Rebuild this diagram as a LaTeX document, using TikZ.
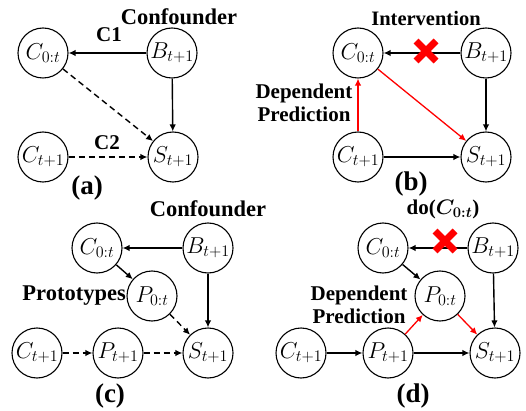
\documentclass[tikz,border=0pt]{standalone}
\usepackage{fix-cm}
\usepackage{fontspec}
\newfontfamily\tnr{Liberation Serif}
\setmainfont{Liberation Serif}
\usetikzlibrary{arrows.meta}
\begin{document}
\begin{tikzpicture}[x=1pt,y=-1pt,
  nd/.style={circle,draw,line width=1.1pt,minimum size=50pt,inner sep=0pt,font=\fontsize{23}{26}\selectfont},
  ar/.style={line width=1.4pt,-{Latex[length=7pt,width=6.5pt]}},
  da/.style={ar,dash pattern=on 6pt off 4pt},
  ra/.style={ar,red,line width=1.3pt},
  lb/.style={font=\tnr\bfseries\fontsize{21}{23}\selectfont,inner sep=0pt,align=center},
  bg/.style={font=\tnr\bfseries\fontsize{22.5}{25}\selectfont,inner sep=0pt},
  captxt/.style={font=\tnr\bfseries\fontsize{27}{30}\selectfont,inner sep=0pt},
  xmark/.style={red,line width=7pt}]
\useasboundingbox (0,0) rectangle (526,411);
% ---------- (a)
\node[nd] (aC0) at (43,53) {$C_{0:t}$};
\node[nd] (aB) at (172,53) {$B_{t+1}$};
\node[nd] (aCn) at (43,157) {$C_{t+1}$};
\node[nd] (aS) at (173,157) {$S_{t+1}$};
\draw[ar] (aB) -- (aC0);
\draw[ar] (aB) -- (aS);
\draw[da] (aC0) -- (aS);
\draw[da] (aCn) -- (aS);
\node[bg] (aconf) at (179,17) {Confounder};
\node[lb] (ac1) at (109,35) {C1};
\node[lb] (ac2) at (107,143) {C2};
\node[captxt] (acap) at (87,188) {(a)};
% ---------- (b)
\node[nd] (bC0) at (358,53) {$C_{0:t}$};
\node[nd] (bB) at (486,53) {$B_{t+1}$};
\node[nd] (bCn) at (358,157) {$C_{t+1}$};
\node[nd] (bS) at (486,157) {$S_{t+1}$};
\draw[ar] (bB) -- (bC0);
\draw[ar] (bB) -- (bS);
\draw[ar] (bCn) -- (bS);
\draw[ra] (bCn) -- (bC0);
\draw[ra] (bC0) -- (bS);
\coordinate (bx) at (426,51);
\draw[xmark] ([shift={(-10,-10)}]bx) -- ([shift={(10,10)}]bx);
\draw[xmark] ([shift={(-10,10)}]bx) -- ([shift={(10,-10)}]bx);
\node[lb,font=\tnr\bfseries\fontsize{20.5}{23}\selectfont] (bint) at (426,18) {Intervention};
\node[lb] (bdep) at (304,103) {Dependent\\Prediction};
\node[captxt] (bcap) at (411,184) {(b)};
% ---------- (c)
\node[nd] (cC0) at (97,248) {$C_{0:t}$};
\node[nd] (cB) at (208,248) {$B_{t+1}$};
\node[nd] (cP0) at (152,296) {$P_{0:t}$};
\node[nd] (cCn) at (37,353) {$C_{t+1}$};
\node[nd] (cPn) at (118,353) {$P_{t+1}$};
\node[nd] (cS) at (208,353) {$S_{t+1}$};
\draw[ar] (cB) -- (cC0);
\draw[ar] (cB) -- (cS);
\draw[ar] (cC0) -- (cP0);
\draw[da] (cP0) -- (cS);
\draw[da] (cCn) -- (cPn);
\draw[da] (cPn) -- (cS);
\node[bg] (cconf) at (208,209) {Confounder};
\node[bg,anchor=east] (cproto) at (126,296) {Prototypes};
\node[captxt] (ccap) at (110,396) {(c)};
% ---------- (d)
\node[nd] (dC0) at (383,248) {$C_{0:t}$};
\node[nd] (dB) at (493,248) {$B_{t+1}$};
\node[nd] (dP0) at (440,296) {$P_{0:t}$};
\node[nd] (dCn) at (301,353) {$C_{t+1}$};
\node[nd] (dPn) at (388,353) {$P_{t+1}$};
\node[nd] (dS) at (495,353) {$S_{t+1}$};
\draw[ar] (dB) -- (dC0);
\draw[ar] (dB) -- (dS);
\draw[ar] (dC0) -- (dP0);
\draw[ar] (dCn) -- (dPn);
\draw[ar] (dPn) -- (dS);
\draw[ra] (dPn) -- (dP0);
\draw[ra] (dP0) -- (dS);
\coordinate (dx) at (445,241);
\draw[xmark] ([shift={(-10,-10)}]dx) -- ([shift={(10,10)}]dx);
\draw[xmark] ([shift={(-10,10)}]dx) -- ([shift={(10,-10)}]dx);
\node[lb] (ddo) at (443,209) {do({\boldmath$C_{0:t}$})};
\node[lb] (ddep) at (359,305) {Dependent\\Prediction};
\node[captxt] (dcap) at (413,396) {(d)};
\end{tikzpicture}
\end{document}
